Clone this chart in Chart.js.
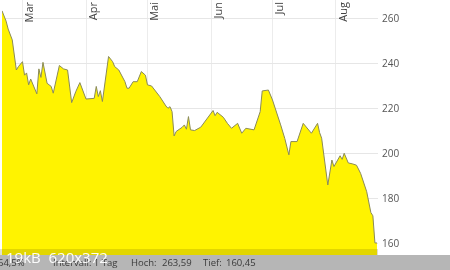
<!DOCTYPE html>
<html>
<head>
<meta charset="utf-8">
<script src="https://cdn.jsdelivr.net/npm/chart.js@4.4.1/dist/chart.umd.min.js"></script>
<style>
  html, body { margin: 0; padding: 0; background: #fff; }
  #wrap { width: 450px; height: 270px; position: relative; }
</style>
</head>
<body>
<div id="wrap"><canvas id="kursChart"></canvas></div>
<script>
// Tage seit Startdatum (Kalendertage) und Schlusskurse
const tage = [
  0, 2, 3, 5, 7, 8, 10, 11, 12, 13,
  14, 17, 18, 19, 20, 22, 24, 25, 28, 30,
  32, 34, 36, 38, 41, 45, 46, 47, 48, 49,
  52, 54, 55, 57, 60, 61, 62, 64, 66, 68,
  70, 71, 73, 77, 80, 81, 82, 83, 84, 85,
  88, 89, 90, 91, 92, 94, 97, 103, 104, 105,
  108, 110, 112, 115, 117, 119, 123, 126, 127, 130,
  132, 136, 138, 140, 141, 144, 147, 151, 154, 155,
  156, 159, 161, 162, 165, 166, 167, 169, 171, 173,
  175, 178, 180, 181, 182, 183
];
const kurse = [
  263.59, 259, 255.5, 250.7, 237.3, 238.8, 241, 235, 236, 230.7,
  233.3, 226.7, 237.8, 234, 240.7, 231.4, 230, 227, 239.3, 237.8,
  237.3, 222.8, 227.7, 231.7, 224.4, 224.7, 230, 225.5, 228.1, 223.3,
  243.3, 241, 238.8, 237.3, 232.1, 229.2, 229.2, 232.1, 232.1, 236.6,
  235, 230.7, 230.2, 225.5, 221.3, 220.3, 221, 218.8, 208, 210,
  211.9, 212.9, 211, 216.6, 210.7, 210.4, 211.9, 219.3, 217, 218.5,
  216.3, 213.6, 211.4, 213.6, 209.2, 211.4, 210.7, 218.8, 228, 228.4,
  224, 212.9, 206.9, 199.6, 205.5, 205.5, 213.6, 209.2, 213.6, 209.5,
  207, 186.2, 197.3, 194.4, 199.2, 197.6, 200.3, 196, 195.6, 195,
  191.4, 183.2, 174, 172.5, 160.45, 160.45
];
const monate = ['Mar', 'Apr', 'Mai', 'Jun', 'Jul', 'Aug'];
const monatsStart = [10, 41, 71, 102, 132, 163];
const yTicks = [160, 180, 200, 220, 240, 260];
const infoTexte = ['64,5%', 'Intervall: 1 Tag', 'Hoch:', '263,59', 'Tief:', '160,45'];
const bildInfo = '19kB  620x372';

// Monatsnamen senkrecht oben im Chart
const monatsLabels = {
  id: 'monatsLabels',
  afterDatasetsDraw(chart) {
    const ctx = chart.ctx;
    const x = chart.scales.x;
    ctx.save();
    ctx.font = '11px "Open Sans", sans-serif';
    ctx.fillStyle = '#444';
    ctx.textAlign = 'right';
    ctx.textBaseline = 'top';
    monatsStart.forEach((t, i) => {
      const px = x.getPixelForValue(t);
      ctx.save();
      ctx.translate(px + 2, 2);
      ctx.rotate(-Math.PI / 2);
      ctx.fillText(monate[i], 0, 0);
      ctx.restore();
    });
    ctx.restore();
  }
};

// Infoleiste unten
const infoLeiste = {
  id: 'infoLeiste',
  afterDraw(chart) {
    const ctx = chart.ctx;
    const area = chart.chartArea;
    ctx.save();
    ctx.fillStyle = 'rgba(110,100,0,0.2)';
    ctx.fillRect(0, area.bottom - 6, area.right, 6);
    ctx.fillStyle = '#b6b6b6';
    ctx.fillRect(0, area.bottom, chart.width, chart.height - area.bottom);

    ctx.font = '9.5px "Open Sans", sans-serif';
    ctx.fillStyle = '#3a3a3a';
    ctx.textBaseline = 'middle';
    const xs = [-2, 53, 131, 162, 203, 226];
    infoTexte.forEach((t, i) => ctx.fillText(t, xs[i], 263));

    ctx.font = '15px "Open Sans", sans-serif';
    ctx.fillStyle = 'rgba(255,255,255,0.95)';
    ctx.fillText(bildInfo, 6, 259);
    ctx.restore();
  }
};

new Chart(document.getElementById('kursChart'), {
  type: 'line',
  data: {
    datasets: [{
      data: tage.map((t, i) => ({ x: t, y: kurse[i] })),
      borderColor: '#8a8a58',
      borderWidth: 1,
      backgroundColor: '#fff300',
      fill: 'start',
      pointRadius: 0,
      tension: 0
    }]
  },
  options: {
    responsive: true,
    maintainAspectRatio: false,
    animation: false,
    layout: { padding: { left: 2, right: 0, top: 0, bottom: 15 } },
    plugins: {
      legend: { display: false },
      tooltip: { enabled: false }
    },
    scales: {
      x: {
        type: 'linear',
        min: 0,
        max: 183.5,
        afterBuildTicks: (scale) => { scale.ticks = monatsStart.map(v => ({ value: v })); },
        afterFit: (scale) => { scale.height = 0; scale.paddingLeft = 0; scale.paddingRight = 0; },
        ticks: { display: false },
        grid: { color: '#ececec', drawTicks: false },
        border: { display: false }
      },
      y: {
        position: 'right',
        min: 155.1,
        max: 268.4,
        afterBuildTicks: (scale) => { scale.ticks = yTicks.map(v => ({ value: v })); },
        afterFit: (scale) => { scale.width = 72; scale.paddingTop = 0; scale.paddingBottom = 0; },
        ticks: {
          color: '#555',
          padding: 4,
          font: { family: '"Open Sans", sans-serif', size: 10 }
        },
        grid: { color: '#e6e6e6', drawTicks: false },
        border: { display: false }
      }
    }
  },
  plugins: [monatsLabels, infoLeiste]
});
</script>
</body>
</html>
